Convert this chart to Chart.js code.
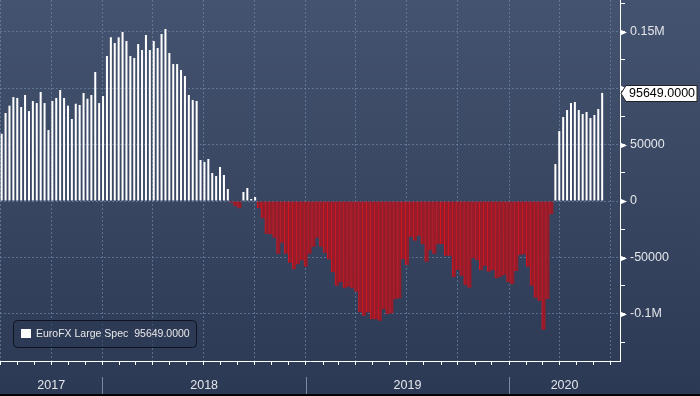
<!DOCTYPE html>
<html>
<head>
<meta charset="utf-8">
<title>EuroFX Large Spec</title>
<script src="https://cdn.jsdelivr.net/npm/chart.js@4.4.1/dist/chart.umd.min.js"></script>
<style>
  html, body { margin: 0; padding: 0; background: #2d3a55; }
  #wrap { width: 700px; height: 396px; }
</style>
</head>
<body>
<div id="wrap"><canvas id="cotChart" width="700" height="396"></canvas></div>
<script>
// ---- data ----
// weekly CFTC report dates (Tuesdays), first report 4 Jul 2017
const firstReport = '2017-07-04';
const seriesName = 'EuroFX Large Spec';

// net large speculator position, contracts
const netPositions = [
    59500, 77900, 84400, 92000, 91200, 83200, 93800, 79600, 88500, 86700,
    96500, 86700, 62800, 88500, 91200, 98200, 91200, 84400, 72600, 86100,
    85000, 95600, 90500, 93800, 114200, 86700, 92900, 128300, 144900, 139800,
    144900, 149600, 141600, 128300, 126600, 138900, 133600, 146900, 133600, 141600,
    135400, 147800, 152200, 131000, 121200, 121200, 115900, 110600, 93800, 89400,
    88500, 36300, 34500, 37200, 24800, 22100, 30100, 23000, 10600, -1500,
    -4400, -6500, 8000, 11500, 1800, 3500, -6500, -15300, -28900, -29500,
    -32500, -46600, -36900, -46600, -54600, -60500, -56000, -52500, -58100, -46600,
    -40400, -32500, -40400, -45700, -51600, -63100, -75000, -72000, -77300, -75800,
    -77300, -80300, -98500, -101500, -98500, -104700, -104700, -105900, -95600, -100000,
    -99500, -87000, -86100, -51600, -56600, -31600, -35100, -30700, -38300, -53700,
    -43400, -46600, -38300, -38300, -48400, -48400, -67500, -61100, -66100, -74300,
    -76700, -50700, -52500, -61100, -57300, -62600, -61100, -68400, -67000, -65500,
    -72000, -73700, -62000, -47800, -47200, -58100, -75000, -85600, -88500, -113900,
    -86700, -11800, 32700, 61900, 74300, 80500, 86700, 87600, 80500, 77000,
    78800, 73500, 76100, 81400, 95649
];

const yearLabels = ['2017', '2018', '2019', '2020'];
const axisStart = '2017-07-01';
const axisEnd = '2020-07-18';
const yMin = -141600;
const yMax = 177900;
const yTickStep = 25000;
const yLabelStep = 50000;

// ---- helpers ----
const DAY = 86400000;
function toDay(s) {
    const [yy, mm, dd] = s.split('-').map(Number);
    const [y0, m0, d0] = axisStart.split('-').map(Number);
    return (Date.UTC(yy, mm - 1, dd) - Date.UTC(y0, m0 - 1, d0)) / DAY;
}

const reportDays = netPositions.map((v, i) => toDay(firstReport) + 7 * i);
const lastValue = netPositions[netPositions.length - 1];

// month starts for the x tick marks
const monthTicks = [];
for (let yy = 2017; yy <= 2020; yy++) {
    for (let mm = 1; mm <= 12; mm++) {
        const d = toDay(yy + '-' + mm + '-1');
        if (d >= 0 && d <= toDay(axisEnd)) monthTicks.push({ value: d, quarter: (mm - 1) % 3 === 0 });
    }
}
const quarterSet = new Set(monthTicks.filter(t => t.quarter).map(t => t.value));

function fmtY(v) {
    if (Math.abs(v) >= 100000) return (v / 1e6) + 'M';
    return String(v);
}

const gridColor = 'rgba(115,145,175,0.6)';
const axisFont = { family: 'Liberation Sans', size: 12.5 };

// ---- decorations: background, year labels, legend, last value ----
const bbgDecor = {
    id: 'bbgDecor',
    beforeDraw(chart) {
        const { ctx, width, height } = chart;
        const g = ctx.createLinearGradient(0, 0, 0, height);
        g.addColorStop(0, '#44536f');
        g.addColorStop(1, '#2c3954');
        ctx.save();
        ctx.fillStyle = g;
        ctx.fillRect(0, 0, width, height);
        ctx.restore();
    },
    afterDraw(chart) {
        const { ctx, chartArea, scales } = chart;
        const x = scales.x, y = scales.y;
        ctx.save();

        // arrow heads on labelled y ticks
        ctx.fillStyle = '#ffffff';
        for (let v = Math.ceil(yMin / yLabelStep) * yLabelStep; v <= yMax; v += yLabelStep) {
            const py = Math.round(y.getPixelForValue(v)) + 0.5;
            ctx.beginPath();
            ctx.moveTo(chartArea.right, py - 3);
            ctx.lineTo(chartArea.right + 7, py);
            ctx.lineTo(chartArea.right, py + 3);
            ctx.closePath();
            ctx.fill();
        }

        // year labels and separators
        ctx.font = '12.5px "Liberation Sans"';
        ctx.fillStyle = '#e4e6ea';
        ctx.textAlign = 'center';
        ctx.textBaseline = 'middle';
        yearLabels.forEach(yr => {
            const s = Math.max(toDay(yr + '-01-01'), x.min);
            const e = Math.min(toDay((+yr + 1) + '-01-01'), x.max);
            ctx.fillText(yr, (x.getPixelForValue(s) + x.getPixelForValue(e)) / 2, chartArea.bottom + 25);
            const b = toDay(yr + '-01-01');
            if (b > x.min && b < x.max) {
                const px = Math.round(x.getPixelForValue(b)) + 0.5;
                ctx.strokeStyle = '#7d889e';
                ctx.lineWidth = 1;
                ctx.beginPath();
                ctx.moveTo(px, chartArea.bottom + 16);
                ctx.lineTo(px, chartArea.bottom + 33);
                ctx.stroke();
            }
        });

        // legend box
        const lx = 13.5, ly = chartArea.bottom - 40.5, lw = 183, lh = 27;
        ctx.beginPath();
        ctx.roundRect(lx, ly, lw, lh, 4);
        ctx.fillStyle = 'rgba(44,57,84,0.6)';
        ctx.fill();
        ctx.strokeStyle = '#0e1320';
        ctx.stroke();
        ctx.fillStyle = '#ffffff';
        ctx.fillRect(21, ly + 8.5, 10, 9);
        ctx.font = '10.5px "Liberation Sans"';
        ctx.fillStyle = '#e8e8e8';
        ctx.textAlign = 'left';
        ctx.fillText(seriesName, 36, ly + 14);
        const nameW = ctx.measureText(seriesName).width;
        ctx.fillText(lastValue.toFixed(4), 36 + nameW + 6, ly + 14);

        // last value tag on the y axis
        const vy = Math.round(y.getPixelForValue(lastValue)) + 0.5;
        const bx = chartArea.right + 6, bw = 71, bh = 16;
        ctx.beginPath();
        ctx.moveTo(chartArea.right + 1, vy);
        ctx.lineTo(bx, vy - bh / 2);
        ctx.lineTo(bx + bw, vy - bh / 2);
        ctx.lineTo(bx + bw, vy + bh / 2);
        ctx.lineTo(bx, vy + bh / 2);
        ctx.closePath();
        ctx.fillStyle = '#ffffff';
        ctx.fill();
        ctx.strokeStyle = '#222222';
        ctx.stroke();
        ctx.font = '12.5px "Liberation Sans"';
        ctx.fillStyle = '#000000';
        ctx.fillText(lastValue.toFixed(4), bx + 3, vy + 0.5);

        // thin black strip at the bottom edge
        ctx.fillStyle = '#000000';
        ctx.fillRect(0, chart.height - 2, chart.width, 2);
        ctx.restore();
    }
};

// ---- chart ----
const ctx = document.getElementById('cotChart');
new Chart(ctx, {
    type: 'bar',
    data: {
        datasets: [
            {
                label: seriesName + ' long',
                data: netPositions.map((v, i) => ({ x: reportDays[i], y: v >= 0 ? v : null })),
                backgroundColor: '#ffffff',
                barPercentage: 0.52,
                categoryPercentage: 1
            },
            {
                label: seriesName + ' short',
                data: netPositions.map((v, i) => ({ x: reportDays[i], y: v < 0 ? v : null })),
                backgroundColor: '#941d2c',
                borderColor: '#d8151f',
                borderWidth: { left: 1, right: 0, top: 0, bottom: 0 },
                borderSkipped: false,
                barPercentage: 1,
                categoryPercentage: 1
            }
        ]
    },
    options: {
        responsive: false,
        devicePixelRatio: 1,
        animation: false,
        grouped: false,
        layout: { padding: 0 },
        plugins: {
            legend: { display: false },
            tooltip: { enabled: false }
        },
        scales: {
            x: {
                type: 'linear',
                position: 'bottom',
                min: 0,
                max: toDay(axisEnd),
                offset: false,
                afterBuildTicks(scale) {
                    scale.ticks = monthTicks.map(t => ({ value: t.value }));
                },
                afterFit(scale) {
                    scale.height = 35;
                    scale.paddingLeft = 0;
                    scale.paddingRight = 0;
                },
                ticks: { display: false, autoSkip: false },
                grid: {
                    offset: false,
                    color: c => (c.tick && quarterSet.has(c.tick.value)) ? gridColor : 'rgba(0,0,0,0)',
                    tickColor: '#ffffff',
                    tickLength: 4,
                    lineWidth: 1
                },
                border: { display: true, color: '#ffffff', width: 1, dash: [2, 2] }
            },
            y: {
                type: 'linear',
                position: 'right',
                min: yMin,
                max: yMax,
                afterBuildTicks(scale) {
                    const t = [];
                    for (let v = Math.ceil(yMin / yTickStep) * yTickStep; v <= yMax; v += yTickStep) t.push({ value: v });
                    scale.ticks = t;
                },
                afterFit(scale) {
                    scale.width = 80;
                    scale.paddingTop = 0;
                    scale.paddingBottom = 0;
                },
                ticks: {
                    autoSkip: false,
                    padding: 5,
                    color: '#e4e6ea',
                    font: axisFont,
                    // labels hidden where the last-value tag sits
                    callback: v => (v % yLabelStep === 0 && Math.abs(v - lastValue) > 12000 ? fmtY(v) : '')
                },
                grid: {
                    color: c => (c.tick && c.tick.value % yLabelStep === 0) ? gridColor : 'rgba(0,0,0,0)',
                    tickColor: '#ffffff',
                    tickLength: 5
                },
                border: { display: true, color: '#ffffff', width: 1, dash: [2, 2] }
            }
        }
    },
    plugins: [bbgDecor]
});
</script>
</body>
</html>
